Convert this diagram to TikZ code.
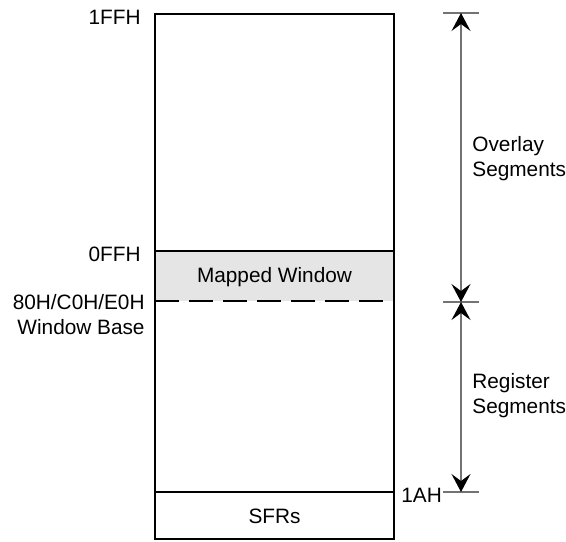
\documentclass[tikz,border=0pt]{standalone}
\usepackage{fontspec}
\setmainfont{Liberation Sans}
\usetikzlibrary{arrows.meta}
\definecolor{winfill}{gray}{0.9}
\definecolor{dimline}{gray}{0.45}
\begin{document}
\begin{tikzpicture}[x=0.5pt, y=-0.5pt, >={Stealth[length=9pt, width=9.5pt, inset=3.5pt, color=black]},
  every node/.style={font=\fontsize{10.4}{12.5}\selectfont, inner sep=0pt},
  lbl/.style={align=right, anchor=east},
  seglbl/.style={align=left, anchor=west},
  dimarrow/.style={draw=dimline, line width=0.7pt},
  tick/.style={draw=dimline, line width=0.7pt}]
  \useasboundingbox (0, 0) rectangle (566, 541);
  % memory block
  \fill[winfill] (155, 251) rectangle (394, 301);
  \draw[line width=0.6pt] (155, 251) -- (394, 251);
  \draw[line width=0.6pt, dash pattern=on 12pt off 5pt] (155, 301) -- (394, 301);
  \draw[line width=0.6pt] (155, 492) -- (394, 492);
  \draw[line width=1pt] (155, 14) rectangle (394, 539);
  \node (mapped) at (274.5, 277) {Mapped Window};
  \node (sfrs) at (274.5, 516) {SFRs};
  % address labels
  \node[lbl] (top) at (141, 17) {1FFH};
  \node[lbl] (wintop) at (141, 254) {0FFH};
  \node[lbl, align=right] (winbase) at (145, 315) {80H/C0H/E0H\\Window Base};
  \node[anchor=west] (sfrtop) at (401, 495) {1AH};
  % segment dimensions
  \coordinate (a) at (461, 13);
  \coordinate (b) at (461, 302);
  \coordinate (c) at (461, 492);
  \foreach \p in {a, b, c}
    \draw[tick] ([xshift=-9]\p) -- ([xshift=9]\p);
  \draw[dimarrow, <->] (a) -- (b);
  \draw[dimarrow, <->] (b) -- (c);
  \node[seglbl] (overlay) at (472, 159) {Overlay\\Segments};
  \node[seglbl] (register) at (472, 396) {Register\\Segments};
\end{tikzpicture}
\end{document}
